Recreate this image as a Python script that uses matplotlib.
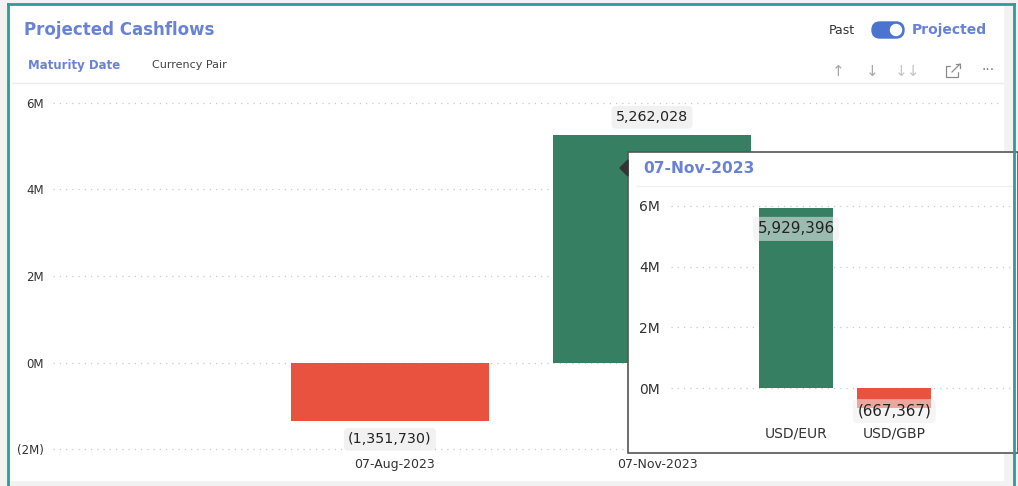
import matplotlib.pyplot as plt
import matplotlib.transforms as mtransforms
from matplotlib.patches import Rectangle, FancyBboxPatch, Polygon, Circle

# main chart data
dates = ["07-Aug-2023", "07-Nov-2023"]
cashflows = [-1351730, 5262028]
main_ticks = [-2e6, 0, 2e6, 4e6, 6e6]
main_tick_labels = ["(2M)", "0M", "2M", "4M", "6M"]

# tooltip breakdown for 07-Nov-2023
pairs = ["USD/EUR", "USD/GBP"]
pair_values = [5929396, -667367]
tip_ticks = [0, 2e6, 4e6, 6e6]
tip_tick_labels = ["0M", "2M", "4M", "6M"]

GREEN = "#367f63"
RED = "#e8523e"
BLUE = "#6a82d6"
GRID = "#c9c9c9"

W, H = 1018, 486
fig = plt.figure(figsize=(W / 100, H / 100), dpi=100)
fig.patch.set_facecolor("white")


def fmt(v):
    s = f"{abs(v):,.0f}"
    return f"({s})" if v < 0 else s


def px_axes(left, top, right, bottom):
    return [left / W, 1 - bottom / H, (right - left) / W, (bottom - top) / H]


# background / card chrome in pixel coords
bg = fig.add_axes([0, 0, 1, 1], zorder=0)
bg.set_xlim(0, W)
bg.set_ylim(H, 0)
bg.axis("off")
bg.add_patch(Rectangle((0, 0), W, H, color="#f2f2f2"))
bg.add_patch(Rectangle((9, 5), 994, 475, color="white"))
bg.plot([8, 8], [4, H], color="#2a9d96", lw=2)
bg.plot([8, 1014], [4, 4], color="#2a9d96", lw=2)
bg.plot([1014, 1014], [4, H], color="#2a9d96", lw=2)
bg.plot([12, 1003], [83, 83], color="#ececec", lw=1)

bg.text(24, 30, "Projected Cashflows", fontsize=12, fontweight="bold",
        color=BLUE, va="center", ha="left")
bg.text(28, 65, "Maturity Date", fontsize=8.5, fontweight="bold",
        color=BLUE, va="center", ha="left")
bg.text(152, 65, "Currency Pair", fontsize=8, color="#444444",
        va="center", ha="left")

# toggle
bg.text(855, 30, "Past", fontsize=9, color="#333333", va="center", ha="right")
bg.add_patch(FancyBboxPatch((872, 22), 32, 16, boxstyle="round,pad=0,rounding_size=8",
                            color="#4a74d0"))
bg.add_patch(Circle((896, 30), 5.5, color="white"))
bg.text(912, 30, "Projected", fontsize=10, fontweight="bold", color=BLUE,
        va="center", ha="left")

# toolbar icons
icon_col = "#a8a8a8"
bg.text(838, 71, "↑", fontsize=11, color=icon_col, ha="center", va="center")
bg.text(872, 71, "↓", fontsize=11, color=icon_col, ha="center", va="center")
bg.text(908, 71, "↓↓", fontsize=11, color="#c4c4c4", ha="center", va="center")
bg.add_patch(Rectangle((946, 66), 12, 11, fill=False, ec="#8a8a8a", lw=0.9))
bg.add_patch(Rectangle((951, 63), 10, 8, color="white"))
bg.plot([952, 960], [72, 64], color="#8a8a8a", lw=0.9)
bg.plot([956, 960, 960], [64, 64, 68], color="#8a8a8a", lw=0.9)
bg.text(988, 70, "···", fontsize=10, color="#777777", ha="center", va="center")

# main chart
ax = fig.add_axes(px_axes(53, 94, 1000, 458), zorder=1)
ax.patch.set_alpha(0)
ax.set_ylim(-2.2e6, 6.2e6)
ax.set_xlim(-1.286, 2.328)
colors = [GREEN if v >= 0 else RED for v in cashflows]
ax.bar(range(len(dates)), cashflows, width=0.756, color=colors, zorder=2)
ax.set_yticks(main_ticks)
ax.set_yticklabels(main_tick_labels)
ax.yaxis.grid(True, linestyle=(0, (1, 4)), color=GRID, lw=0.9)
ax.set_axisbelow(True)
ax.set_xticks(range(len(dates)))
ax.set_xticklabels(dates)
ax.tick_params(length=0, labelsize=8.5, colors="#333333")
ax.tick_params(axis="x", labelsize=9)
ax.tick_params(axis="y", pad=6.5)
ax.tick_params(axis="x", pad=0)
shift = mtransforms.ScaledTranslation(5 / 100, 0, fig.dpi_scale_trans)
for lbl in ax.get_xticklabels():
    lbl.set_transform(lbl.get_transform() + shift)
for sp in ax.spines.values():
    sp.set_visible(False)
for i, v in enumerate(cashflows):
    off = 12.5 if v >= 0 else -13
    ax.annotate(fmt(v), (i, v), xytext=(0, off), textcoords="offset points",
                ha="center", va="center", fontsize=10.3, color="#222222",
                bbox=dict(boxstyle="round,pad=0.3", fc="#f1f1f1", ec="none"))

# tooltip overlay
tip = fig.add_axes([0, 0, 1, 1], zorder=3)
tip.set_xlim(0, W)
tip.set_ylim(H, 0)
tip.axis("off")
tip.add_patch(Rectangle((628, 152), 390, 301, fc="white", ec="#555555", lw=1.2))
tip.add_patch(Polygon([[620, 168], [628, 160], [628, 176]], color="#333333"))
tip.plot([636, 1012], [186, 186], color="#f0f0f0", lw=1)
tip.text(643, 168, "07-Nov-2023", fontsize=11.2, fontweight="bold", color=BLUE,
         ha="left", va="center")
tip.plot([1014, 1014], [152, 453], color="#2a9d96", lw=2)

ax2 = fig.add_axes(px_axes(671, 195, 1012, 420), zorder=4)
ax2.patch.set_alpha(0)
ax2.set_ylim(-1.05e6, 6.36e6)
ax2.set_xlim(-1.276, 2.2)
pcolors = [GREEN if v >= 0 else RED for v in pair_values]
ax2.bar(range(len(pairs)), pair_values, width=0.755, color=pcolors, zorder=2)
ax2.set_yticks(tip_ticks)
ax2.set_yticklabels(tip_tick_labels)
ax2.yaxis.grid(True, linestyle=(0, (1, 4)), color=GRID, lw=0.9)
ax2.set_axisbelow(True)
ax2.set_xticks(range(len(pairs)))
ax2.set_xticklabels(pairs)
ax2.tick_params(length=0, labelsize=10, colors="#333333")
ax2.tick_params(axis="y", pad=8)
ax2.tick_params(axis="x", pad=5)
for sp in ax2.spines.values():
    sp.set_visible(False)
for i, v in enumerate(pair_values):
    off = -15 if v >= 0 else -2
    ax2.annotate(fmt(v), (i, v), xytext=(0, off), textcoords="offset points",
                 ha="center", va="center", fontsize=10.9, color="#222222", zorder=5,
                 bbox=dict(boxstyle="round,pad=0.3", fc="#eeeeee", ec="none", alpha=0.55))

fig.savefig("out.png", dpi=100)
